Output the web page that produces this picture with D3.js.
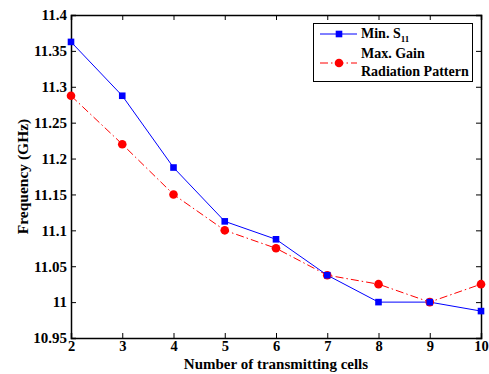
<!DOCTYPE html>
<html><head><meta charset="utf-8">
<script src="https://cdn.jsdelivr.net/npm/d3@7"></script>
<style>body{margin:0;background:#fff}svg{display:block}text{font-family:"Liberation Serif","Times New Roman",serif;font-weight:bold}</style>
</head><body><svg id="c" width="489" height="374"></svg>
<script>
const cells = [2,3,4,5,6,7,8,9,10];
const minS11 = [11.3625,11.2875,11.1875,11.1125,11.0875,11.0375,11.0,11.0,10.9875];
const maxGain = [11.2875,11.22,11.15,11.1,11.075,11.0375,11.025,11.0,11.025];
const yTicks = [10.95,11,11.05,11.1,11.15,11.2,11.25,11.3,11.35,11.4];
const xTicks = [2,3,4,5,6,7,8,9,10];

const svg = d3.select("#c");
const L=71,R=481,T=15,B=338;
const x = d3.scaleLinear().domain([2,10]).range([L,R]);
const y = d3.scaleLinear().domain([10.95,11.4]).range([B,T]);

const ax = svg.append("g").attr("transform",`translate(0,${B})`).call(d3.axisBottom(x).tickValues(xTicks).tickSize(-5).tickPadding(3).tickFormat(d3.format("d")));
const ay = svg.append("g").attr("transform",`translate(${L},0)`).call(d3.axisLeft(y).tickValues(yTicks).tickSize(-5).tickPadding(4).tickFormat(d=>String(+d.toFixed(2))));
const at = svg.append("g").attr("transform",`translate(0,${T})`).call(d3.axisTop(x).tickValues(xTicks).tickSize(-5).tickFormat(""));
const ar = svg.append("g").attr("transform",`translate(${R},0)`).call(d3.axisRight(y).tickValues(yTicks).tickSize(-5).tickFormat(""));
[ax,ay,at,ar].forEach(g=>{g.select(".domain").attr("stroke","#000").attr("stroke-width",1.5);g.selectAll(".tick line").attr("stroke","#000");g.selectAll("text").attr("font-size",15).attr("fill","#000");});
ax.selectAll("text").attr("font-size",14.5);

const line = d3.line().x((d,i)=>x(cells[i])).y(d=>y(d));
svg.append("path").datum(maxGain).attr("d",line).attr("fill","none").attr("stroke","#ff0000").attr("stroke-width",1).attr("stroke-dasharray","8,3,1.5,3");
svg.append("path").datum(minS11).attr("d",line).attr("fill","none").attr("stroke","#0000ff").attr("stroke-width",1);
svg.selectAll(".rc").data(maxGain).join("circle").attr("cx",(d,i)=>x(cells[i])).attr("cy",d=>y(d)).attr("r",4.3).attr("fill","#ff0000");
svg.selectAll(".bs").data(minS11).join("rect").attr("x",(d,i)=>x(cells[i])-3.3).attr("y",d=>y(d)-3.3).attr("width",6.6).attr("height",6.6).attr("fill","#0000ff");

svg.append("text").attr("x",(L+R)/2).attr("y",369).attr("text-anchor","middle").attr("font-size",15).text("Number of transmitting cells");
svg.append("text").attr("transform",`translate(28,${(T+B)/2}) rotate(-90)`).attr("text-anchor","middle").attr("font-size",15.5).text("Frequency (GHz)");

// legend
const lg = svg.append("g");
lg.append("rect").attr("x",313.5).attr("y",23.5).attr("width",159).attr("height",58).attr("fill","#fff").attr("stroke","#000").attr("stroke-width",1);
lg.append("line").attr("x1",320).attr("x2",357).attr("y1",34).attr("y2",34).attr("stroke","#0000ff");
lg.append("rect").attr("x",339-3.3).attr("y",34-3.3).attr("width",6.6).attr("height",6.6).attr("fill","#0000ff");
lg.append("line").attr("x1",320).attr("x2",357).attr("y1",63).attr("y2",63).attr("stroke","#ff0000").attr("stroke-dasharray","8,3,1.5,3");
lg.append("circle").attr("cx",339).attr("cy",63).attr("r",4.3).attr("fill","#ff0000");
const t1 = lg.append("text").attr("x",361).attr("y",38).attr("font-size",14);
t1.append("tspan").text("Min. S");
t1.append("tspan").attr("dy",4).attr("font-size",9).text("11");
lg.append("text").attr("x",361).attr("y",58).attr("font-size",14).text("Max. Gain");
lg.append("text").attr("x",361).attr("y",76).attr("font-size",14).text("Radiation Pattern");
</script></body></html>
